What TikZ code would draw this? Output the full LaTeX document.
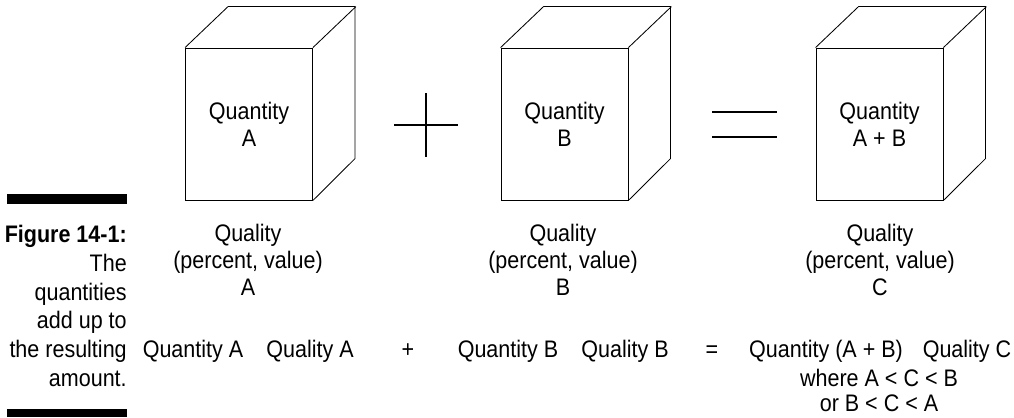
\documentclass[tikz,border=0pt]{standalone}
\usepackage{fontspec}
\setmainfont{Liberation Sans}[FakeStretch=0.9]
\usepackage{tikz}
\usetikzlibrary{positioning}

\begin{document}
\begin{tikzpicture}[x=0.025cm,y=-0.025cm,
 every node/.style={font=\fontsize{17}{19}\selectfont,align=center,inner sep=0pt},
 front/.style={draw,line width=0.6pt,minimum width=3.175cm,minimum height=3.8cm},
 edge/.style={line width=0.6pt,line join=miter},
 sign/.style={line width=2pt},
 bar/.style={fill=black}]
\useasboundingbox (0,0) rectangle (1014,417);
% boxes
\node[front] (qtyA) at (249,124) {Quantity\\A};
\node[front] (qtyB) at (564.5,124) {Quantity\\B};
\node[front] (qtyAB) at (879.5,124) {Quantity\\A + B};
\foreach \c in {qtyA,qtyB,qtyAB}{
 \draw[edge] (\c.north west)--++(43,-41)--++(127,0)--++(0,152)--(\c.south east);
 \draw[edge] (\c.north east)--++(43,-41);
}
% signs
\draw[sign] (394,125)--(458,125) (426,93)--(426,157);
\draw[sign] (712,112)--(777,112) (712,137)--(777,137);
% qualities
\node (qualA) at (248,260) {Quality\\(percent, value)\\A};
\node (qualB) at (563,260) {Quality\\(percent, value)\\B};
\node (qualC) at (880,260) {Quality\\(percent, value)\\C};
% bottom row
\node[anchor=base] (sumqA) at (193,357) {Quantity A};
\node[anchor=base] (sumlA) at (310,357) {Quality A};
\node[anchor=base] (plus) at (408,357) {+};
\node[anchor=base] (sumqB) at (508,357) {Quantity B};
\node[anchor=base] (sumlB) at (625,357) {Quality B};
\node[anchor=base] (equals) at (712,357) {=};
\node[anchor=base] (sumqAB) at (826,357) {Quantity (A + B)};
\node[anchor=base] (sumlC) at (967,357) {Quality C};
\node[anchor=base] (cond) at (879,386) {where A < C < B};
\node[below=6pt of cond] (cond2) {or B < C < A};
% caption
\fill[bar] (7,194) rectangle (127,204);
\node[anchor=east,align=right,font=\fontsize{17}{20.5}\selectfont] (caption) at (127,306)
 {\textbf{Figure 14-1:}\\The\\quantities\\add up to\\the resulting\\amount.};
\fill[bar] (7,409) rectangle (127,417);
\end{tikzpicture}
\end{document}
